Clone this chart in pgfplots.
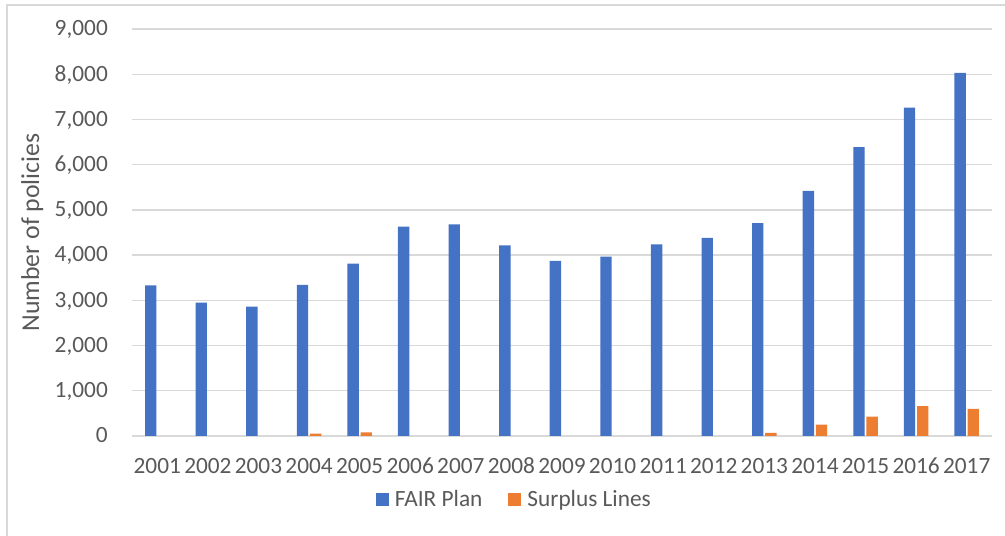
\documentclass[border=0pt]{standalone}
\usepackage{pgfplots}
\pgfplotsset{compat=1.18}
\usepackage{fontspec}
\setmainfont{Carlito}
\definecolor{fairblue}{HTML}{4472C4}
\definecolor{surporange}{HTML}{ED7D31}
\definecolor{gridgray}{HTML}{D9D9D9}
\definecolor{txtgray}{HTML}{595959}
\definecolor{framegray}{HTML}{D9D9D9}
\begin{document}
\begin{tikzpicture}[x=1bp,y=1bp]
\begin{axis}[
  at={(132bp,100bp)}, anchor=south west,
  scale only axis, width=860bp, height=407bp,
  ybar, bar width=0.225,
  xmin=-0.5, xmax=16.5, ymin=0, ymax=9000,
  ytick={0,1000,...,9000},
  xtick={0,...,16},
  xticklabels={2001,2002,2003,2004,2005,2006,2007,2008,2009,2010,2011,2012,2013,2014,2015,2016,2017},
  axis line style={draw=none},
  major tick length=0pt,
  ymajorgrids, grid style={gridgray, line width=1.3bp},
  /pgf/number format/assume math mode=true,
  /pgf/number format/.cd, 1000 sep={,}, /pgfplots/.cd,
  scaled y ticks=false,
  tick label style={font=\fontsize{23.3bp}{28bp}\selectfont, text=txtgray, inner sep=0pt},
  yticklabel style={anchor=base east, xshift=-24bp, yshift=-6.8bp},
  xticklabel style={anchor=base, yshift=-37bp},
  ylabel={Number of policies},
  ylabel style={at={(axis description cs:-0.108,0.5)}, anchor=base, font=\fontsize{25.8bp}{30bp}\selectfont, text=txtgray, inner sep=0pt},
  legend columns=2,
  legend style={draw=none, fill=none, inner sep=0pt, outer sep=0pt,
    at={(rel axis cs:0.2837,-0.156)}, anchor=west,
    font=\fontsize{23.3bp}{28bp}\selectfont, text=txtgray,
    nodes={inner sep=0pt},
    column sep=6bp,
    /tikz/column 2/.style={column sep=26bp}},
  legend image code/.code={\fill[#1] (0bp,-6.5bp) rectangle (13bp,6.5bp);},
]
\addplot[fill=fairblue, draw=none, bar shift=-0.13] coordinates {
(0,3330) (1,2950) (2,2860) (3,3340) (4,3810) (5,4630) (6,4680) (7,4215) (8,3870)
(9,3965) (10,4235) (11,4380) (12,4710) (13,5420) (14,6390) (15,7260) (16,8030)};
\addlegendentry{FAIR Plan}
\addplot[fill=surporange, draw=none, bar shift=0.13] coordinates {
(3,50) (4,80) (12,70) (13,250) (14,430) (15,660) (16,600)};
\addlegendentry{Surplus Lines}
\end{axis}
\draw[framegray, line width=1.3bp] (7bp,0bp) -- (7bp,531bp) -- (1005bp,531bp);
\pgfresetboundingbox
\path[use as bounding box] (0bp,0bp) rectangle (1005bp,536bp);
\end{tikzpicture}
\end{document}
